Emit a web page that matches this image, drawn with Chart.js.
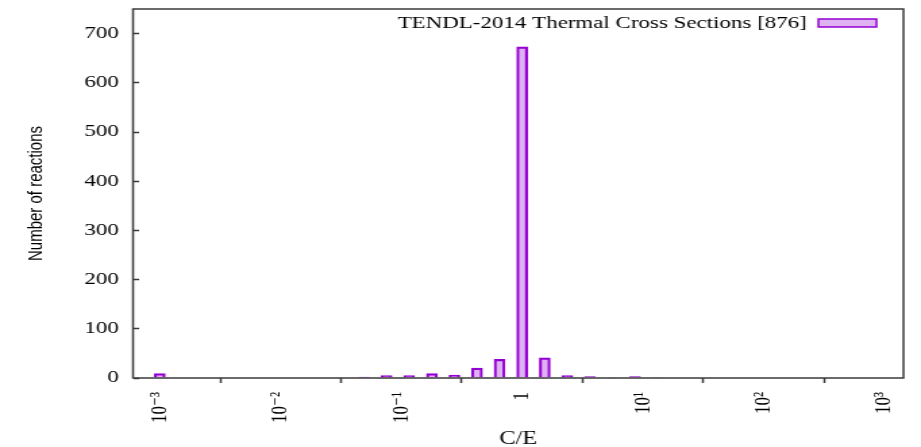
<!DOCTYPE html>
<html lang="en">
<head>
  <meta charset="UTF-8" />
  <title>TENDL-2014 Thermal Cross Sections</title>
  <style>
    html, body { margin: 0; padding: 0; background: #fff; }
  </style>
</head>
<body>
  <!-- drawn on a narrower canvas and widened by CSS, like the original plot -->
  <canvas id="ceChart" width="682" height="447" style="display:block;width:921px;height:447px;"></canvas>

  <script src="https://cdn.jsdelivr.net/npm/chart.js@4"></script>
  <script>
    // C/E bin centres (log spaced) and reactions per bin
    const ceBins = [0.001, 0.0491, 0.0755, 0.116, 0.179, 0.275, 0.423, 0.650, 1, 1.54, 2.37, 3.64, 5.60, 8.61, 13.2];
    const reactionCounts = [9, 2, 5, 5, 9, 6, 20, 38, 673, 41, 5, 3, 1, 3, 1];
    const seriesLabel = 'TENDL-2014 Thermal Cross Sections [876]';

    const xTickValues = [1e-3, 1e-2, 1e-1, 1, 1e1, 1e2, 1e3];
    const xTickLabels = ['10⁻³', '10⁻²', '10⁻¹', '1', '10¹', '10²', '10³'];
    const yTickValues = [0, 100, 200, 300, 400, 500, 600, 700];

    const serif = "'Liberation Serif', 'DejaVu Serif', serif";
    const ink = '#000';
    const axisColor = '#3a3a3a';

    Chart.defaults.font.family = serif;
    Chart.defaults.color = ink;

    // full box around the plot area
    const frame = {
      id: 'frame',
      afterDraw(chart) {
        const {ctx, chartArea: a} = chart;
        ctx.save();
        ctx.strokeStyle = axisColor;
        ctx.lineWidth = 1.5;
        ctx.strokeRect(a.left, a.top, a.right - a.left, a.bottom - a.top);
        ctx.restore();
      }
    };

    // key in the top right corner: label text, then sample box
    const insideKey = {
      id: 'insideKey',
      afterDatasetsDraw(chart) {
        const {ctx, chartArea: a} = chart;
        const ds = chart.data.datasets[0];
        const boxW = 43, boxH = 8;
        const boxRight = a.right - 20;
        const boxTop = a.top + 10;
        ctx.save();
        ctx.fillStyle = ds.backgroundColor;
        ctx.fillRect(boxRight - boxW, boxTop, boxW, boxH);
        ctx.strokeStyle = ds.borderColor;
        ctx.lineWidth = 1.5;
        ctx.strokeRect(boxRight - boxW, boxTop, boxW, boxH);
        ctx.font = '17px ' + serif;
        ctx.fillStyle = ink;
        ctx.textAlign = 'right';
        ctx.textBaseline = 'middle';
        ctx.fillText(ds.label, boxRight - boxW - 8.5, boxTop + boxH / 2 + 0.5);
        ctx.restore();
      }
    };

    // axis sizes are fixed so the plot box lands in the same place every time
    function fixBox(size, key) {
      return (scale) => {
        scale[key] = size;
        scale.paddingTop = 0;
        scale.paddingBottom = 0;
        scale.paddingLeft = 0;
        scale.paddingRight = 0;
      };
    }

    const ctx = document.getElementById('ceChart').getContext('2d');

    const chart = new Chart(ctx, {
      type: 'bar',
      data: {
        datasets: [{
          label: seriesLabel,
          data: ceBins.map((x, i) => ({ x: x, y: reactionCounts[i] })),
          backgroundColor: 'rgba(148, 0, 211, 0.3)',
          borderColor: '#9400d3',
          borderWidth: 1.5,
          borderSkipped: 'bottom',
          barThickness: 8
        }]
      },
      options: {
        responsive: false,
        maintainAspectRatio: false,
        animation: false,
        layout: { padding: { left: 0, right: 13, top: 9, bottom: 0 } },
        plugins: {
          legend: { display: false },
          tooltip: { enabled: false }
        },
        scales: {
          x: {
            type: 'logarithmic',
            min: 6.15e-4,
            max: 1436,
            offset: false,
            afterBuildTicks: (scale) => { scale.ticks = xTickValues.map(v => ({ value: v })); },
            afterFit: fixBox(69, 'height'),
            border: { display: false },
            grid: {
              drawOnChartArea: false,
              tickLength: 5,
              tickWidth: 1.5,
              tickColor: axisColor
            },
            ticks: {
              autoSkip: false,
              minRotation: 90,
              maxRotation: 90,
              padding: 9,
              font: { size: 17 },
              color: ink,
              callback: (v) => {
                const i = xTickValues.findIndex(t => Math.abs(t - v) / t < 1e-6);
                return i >= 0 ? xTickLabels[i] : '';
              }
            },
            title: {
              display: true,
              text: 'C/E',
              font: { size: 18 },
              color: ink,
              padding: { top: 0, bottom: -3 }
            }
          },
          y: {
            min: 0,
            max: 750,
            afterBuildTicks: (scale) => { scale.ticks = yTickValues.map(v => ({ value: v })); },
            afterFit: fixBox(98.5, 'width'),
            border: { display: false },
            grid: {
              drawOnChartArea: false,
              tickLength: -4.5,
              tickWidth: 1.5,
              tickColor: axisColor
            },
            ticks: {
              padding: 15,
              font: { size: 17 },
              color: ink
            },
            title: {
              display: true,
              text: 'Number of reactions',
              font: { family: "'Liberation Sans Narrow', 'Liberation Sans', sans-serif", size: 15 },
              color: ink,
              padding: { top: 18, bottom: 0 }
            }
          }
        }
      },
      plugins: [frame, insideKey]
    });
  </script>
</body>
</html>
